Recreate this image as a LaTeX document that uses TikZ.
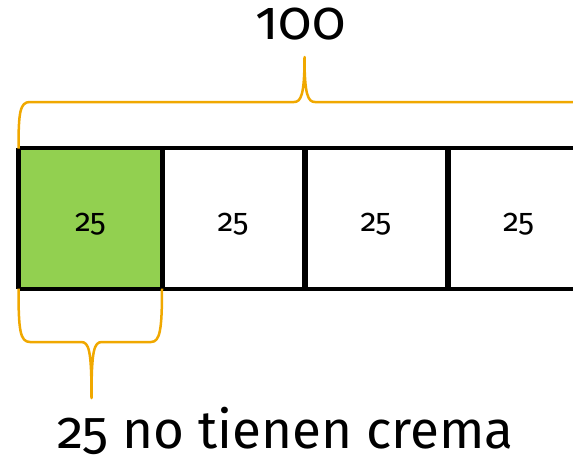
\documentclass[tikz,border=0pt]{standalone}
\usepackage{fontspec}
\setmainfont{Fira Sans}[Numbers=OldStyle]
\definecolor{bracegold}{RGB}{240,168,0}
\definecolor{cellgreen}{RGB}{146,208,80}
\tikzset{
  cellbox/.style={draw=black, line width=1pt, minimum width=142.75pt, minimum height=140pt, inner sep=0pt},
  greencell/.style={cellbox, fill=cellgreen},
  celltext/.style={inner sep=0pt, font=\fontsize{32}{36}\selectfont},
  bracepath/.style={draw=bracegold, line width=2.5pt, line join=round},
  divider/.style={line width=5.5pt, black},
  outerline/.style={line width=4.5pt, black},
}
\begin{document}
\begin{tikzpicture}[x=1pt,y=-1pt]
\useasboundingbox (0,0) rectangle (573,461);
\clip (0,0) rectangle (573,461);
% cells
\node[greencell] (c1) at (90.4,218.5) {};
\node[cellbox] (c2) at (233.1,218.5) {};
\node[cellbox] (c3) at (375.9,218.5) {};
\node[cellbox] (c4) at (518.6,218.5) {};
\node[celltext] (t1) at ([yshift=-6pt]c1.center) {25};
\node[celltext] (t2) at ([yshift=-6pt]c2.center) {25};
\node[celltext] (t3) at ([yshift=-6pt]c3.center) {25};
\node[celltext] (t4) at ([yshift=-6pt]c4.center) {25};
% outer lines
\draw[outerline] (c1.north west) -- (c4.north east);
\draw[outerline] (c1.south west) -- (c4.south east);
\draw[outerline] (c1.north west) -- (c1.south west);
\draw[divider] (c1.north east) -- (c1.south east);
\draw[divider] (c2.north east) -- (c2.south east);
\draw[divider] (c3.north east) -- (c3.south east);
\draw[divider] (c4.north east) -- (c4.south east);
% top brace
\coordinate (tl) at (18.5,148.5);
\coordinate (tt) at (304.5,57);
\coordinate (tr) at (590.5,148.5);
\draw[bracepath] (tl) .. controls (18.5,112) and (20,102) .. (30,102)
  -- (294,102) .. controls (301,102) and (304.5,95) .. (tt)
  .. controls (304.5,95) and (308,102) .. (315,102)
  -- (579,102) .. controls (589,102) and (590.5,112) .. (tr);
% bottom brace
\coordinate (bl) at (18.5,288.5);
\coordinate (bt) at (91.5,398);
\coordinate (br) at (162,288.5);
\draw[bracepath] (bl) .. controls (18.5,330) and (20,342) .. (30,342)
  -- (81,342) .. controls (89,342) and (91.5,350) .. (bt)
  .. controls (91.5,350) and (94,342) .. (102,342)
  -- (151,342) .. controls (160,342) and (162,330) .. (br);
% labels
\node[anchor=base, inner sep=0pt, font=\fontsize{55}{60}\selectfont] (top) at (300.5,39) {100};
\node[anchor=base, inner sep=0pt, font=\fontsize{53}{58}\selectfont] (bottom) at (285.5,448) {25 no tienen crema};
\end{tikzpicture}
\end{document}
